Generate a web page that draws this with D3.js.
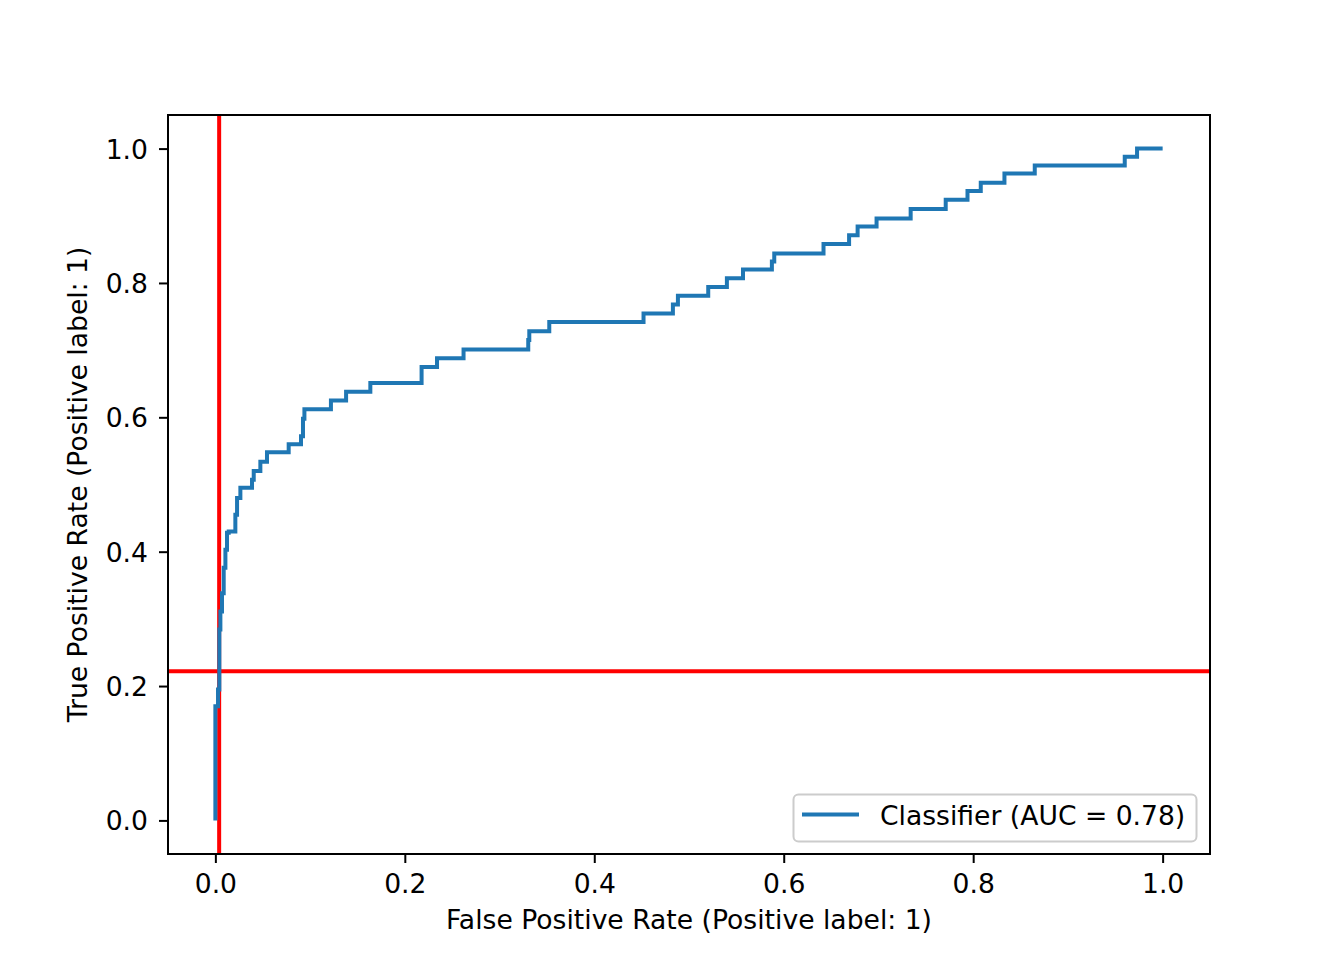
<!DOCTYPE html>
<html>
<head>
<meta charset="utf-8">
<script src="https://cdn.jsdelivr.net/npm/d3@7"></script>
<style>
  html, body { margin: 0; padding: 0; background: #fff; }
  text { font-family: "DejaVu Sans", sans-serif; fill: #000; }
</style>
</head>
<body>
<svg id="chart" width="1344" height="960"></svg>
<script>
// ROC curve vertices (False Positive Rate, True Positive Rate)
const fpr = [0, 0, 0.0028, 0.0028, 0.0042, 0.0042, 0.0053, 0.0053, 0.007, 0.007,
  0.0088, 0.0088, 0.0106, 0.0106, 0.0123, 0.0123, 0.0141, 0.0141, 0.0211, 0.0211,
  0.0229, 0.0229, 0.0264, 0.0264, 0.0387, 0.0387, 0.0405, 0.0405, 0.0475, 0.0475,
  0.0545, 0.0545, 0.0774, 0.0774, 0.0904, 0.0904, 0.0925, 0.0925, 0.094, 0.094,
  0.122, 0.122, 0.138, 0.138, 0.1636, 0.1636, 0.2177, 0.2177, 0.234, 0.234,
  0.262, 0.262, 0.3303, 0.3303, 0.3314, 0.3314, 0.3525, 0.3525, 0.452, 0.452,
  0.483, 0.483, 0.4883, 0.4883, 0.5203, 0.5203, 0.540, 0.540, 0.557, 0.557,
  0.5875, 0.5875, 0.590, 0.590, 0.642, 0.642, 0.669, 0.669, 0.678, 0.678,
  0.698, 0.698, 0.734, 0.734, 0.771, 0.771, 0.794, 0.794, 0.808, 0.808,
  0.833, 0.833, 0.865, 0.865, 0.960, 0.960, 0.973, 0.973, 1.0];
const tpr = [0, 0.170, 0.170, 0.195, 0.195, 0.284, 0.284, 0.311, 0.311, 0.338,
  0.338, 0.376, 0.376, 0.403, 0.403, 0.428, 0.428, 0.430, 0.430, 0.455,
  0.455, 0.480, 0.480, 0.495, 0.495, 0.507, 0.507, 0.520, 0.520, 0.534,
  0.534, 0.548, 0.548, 0.560, 0.560, 0.572, 0.572, 0.598, 0.598, 0.612,
  0.612, 0.625, 0.625, 0.638, 0.638, 0.651, 0.651, 0.675, 0.675, 0.688,
  0.688, 0.701, 0.701, 0.715, 0.715, 0.728, 0.728, 0.742, 0.742, 0.7545,
  0.7545, 0.768, 0.768, 0.781, 0.781, 0.794, 0.794, 0.807, 0.807, 0.820,
  0.820, 0.832, 0.832, 0.844, 0.844, 0.858, 0.858, 0.871, 0.871, 0.884,
  0.884, 0.896, 0.896, 0.910, 0.910, 0.924, 0.924, 0.937, 0.937, 0.949,
  0.949, 0.963, 0.963, 0.975, 0.975, 0.988, 0.988, 1.0, 1.0];

const xTicks = [0, 0.2, 0.4, 0.6, 0.8, 1.0];
const yTicks = [0, 0.2, 0.4, 0.6, 0.8, 1.0];
const thresholdFpr = 0.004;   // red vertical line
const thresholdTpr = 0.222;   // red horizontal line
const legendLabel = "Classifier (AUC = 0.78)";
const xLabel = "False Positive Rate (Positive label: 1)";
const yLabel = "True Positive Rate (Positive label: 1)";

const L = 168, R = 1210, T = 115, B = 854;
const FS = 26.6;
const svg = d3.select("#chart");

const x = d3.scaleLinear().domain([-0.05, 1.05]).range([L, R]);
const y = d3.scaleLinear().domain([-0.05, 1.05]).range([B, T]);

svg.append("defs").append("clipPath").attr("id", "clip")
  .append("rect").attr("x", L).attr("y", T).attr("width", R - L).attr("height", B - T);

const plot = svg.append("g").attr("clip-path", "url(#clip)");

// red reference lines
plot.append("line")
  .attr("x1", x(thresholdFpr)).attr("x2", x(thresholdFpr))
  .attr("y1", T).attr("y2", B)
  .attr("stroke", "#ff0000").attr("stroke-width", 4);
plot.append("line")
  .attr("x1", L).attr("x2", R)
  .attr("y1", y(thresholdTpr)).attr("y2", y(thresholdTpr))
  .attr("stroke", "#ff0000").attr("stroke-width", 4);

// ROC curve
const pts = fpr.map((f, i) => [f, tpr[i]]);
plot.append("path")
  .datum(pts)
  .attr("d", d3.line().x(d => x(d[0])).y(d => y(d[1])))
  .attr("fill", "none")
  .attr("stroke", "#1f77b4")
  .attr("stroke-width", 4)
  .attr("stroke-linejoin", "miter")
  .attr("stroke-linecap", "butt");

// axes
const xAxis = svg.append("g").attr("transform", `translate(0,${B})`)
  .call(d3.axisBottom(x).tickValues(xTicks).tickFormat(d3.format(".1f"))
        .tickSize(9).tickPadding(10));
const yAxis = svg.append("g").attr("transform", `translate(${L},0)`)
  .call(d3.axisLeft(y).tickValues(yTicks).tickFormat(d3.format(".1f"))
        .tickSize(9).tickPadding(11));
[xAxis, yAxis].forEach(g => {
  g.select(".domain").remove();
  g.selectAll(".tick line").attr("stroke", "#000").attr("stroke-width", 2);
  g.selectAll(".tick text").attr("font-size", FS).attr("font-family", "DejaVu Sans").attr("fill", "#000");
});
xAxis.selectAll(".tick text").attr("dy", null).attr("y", 39);
yAxis.selectAll(".tick text").attr("dy", null).attr("y", 9.5);

// frame
svg.append("rect").attr("x", L).attr("y", T).attr("width", R - L).attr("height", B - T)
  .attr("fill", "none").attr("stroke", "#000").attr("stroke-width", 2);

// axis labels
svg.append("text").attr("x", (L + R) / 2).attr("y", 929)
  .attr("text-anchor", "middle").attr("font-size", FS).text(xLabel);
svg.append("text")
  .attr("transform", `translate(87,${(T + B) / 2}) rotate(-90)`)
  .attr("text-anchor", "middle").attr("font-size", FS).text(yLabel);

// legend
const lg = svg.append("g");
lg.append("rect").attr("x", 793.5).attr("y", 794.5).attr("width", 403).attr("height", 47)
  .attr("rx", 5).attr("ry", 5)
  .attr("fill", "#fff").attr("fill-opacity", 0.8)
  .attr("stroke", "#cccccc").attr("stroke-width", 2);
lg.append("line").attr("x1", 802).attr("x2", 859).attr("y1", 814.5).attr("y2", 814.5)
  .attr("stroke", "#1f77b4").attr("stroke-width", 4);
lg.append("text").attr("x", 880).attr("y", 825).attr("font-size", FS).text(legendLabel);
</script>
</body>
</html>
